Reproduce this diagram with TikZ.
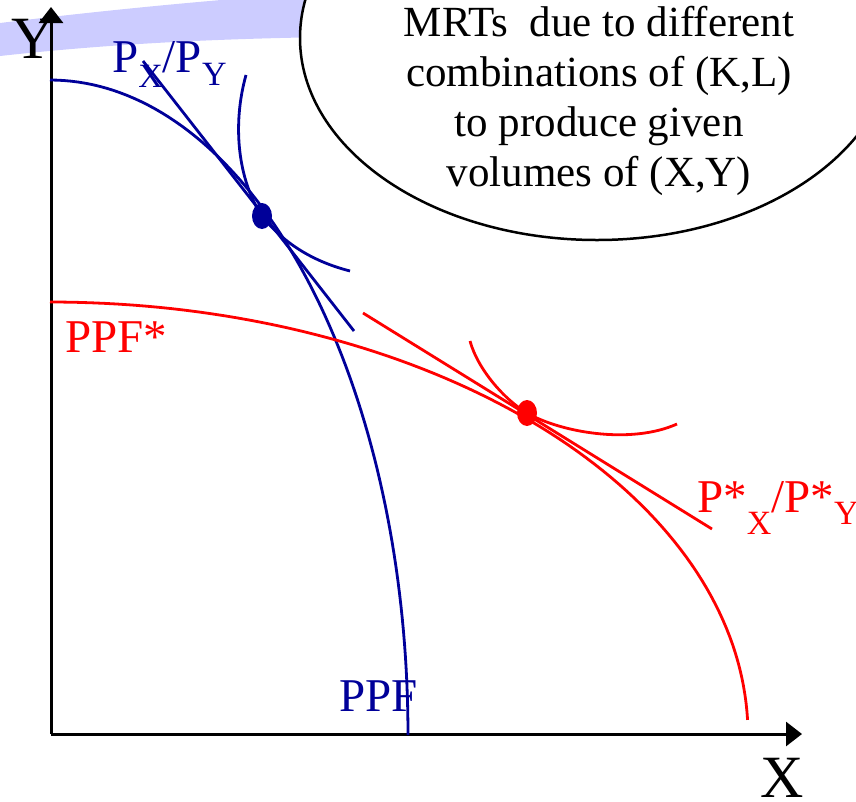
\documentclass[tikz,border=0pt]{standalone}
\usepackage{fontspec}
\setmainfont{Liberation Serif}
\usetikzlibrary{arrows.meta}
\definecolor{ppfblue}{RGB}{0,0,153}
\definecolor{bandblue}{RGB}{204,204,255}
\newcommand{\fsz}[2]{\fontsize{#1}{#2}\selectfont}
\newcommand{\sub}[2]{\raisebox{-#1pt}{\fsz{34}{34}#2}}
\begin{document}
\begin{tikzpicture}[x=1pt,y=-1pt,
  axis/.style={line width=3pt,-{Triangle[length=16pt,width=24pt]}},
  curve/.style={line width=2.8pt},
  lbl/.style={inner sep=0pt,anchor=base west,font=\fsz{47}{47}}]
  \useasboundingbox (0,0) rectangle (856,801);
  \clip (0,0) rectangle (856,801);
  % band and bubble
  \fill[bandblue] (0,23) .. controls (90,12) and (180,3) .. (270,-4) -- (330,-4)
    -- (330,37) .. controls (200,39) and (100,45) .. (0,56) -- cycle;
  \draw[fill=white,line width=2.5pt] (597,38) ellipse[x radius=297,y radius=202];
  \node[align=center,inner sep=0pt,anchor=base,font=\fsz{43}{50}] (note) at (599,186)
    {MRTs\ \ due to different\\combinations of (K,L)\\to produce given\\volumes of (X,Y)};
  % axes
  \coordinate (O) at (51,734);
  \coordinate (ytip) at (51,7);
  \coordinate (xtip) at (802,734);
  \draw[axis] (O) -- (ytip);
  \draw[axis] (O) -- (xtip);
  \node[inner sep=0pt,anchor=base,font=\fsz{60}{60}] (ylab) at (33,58) {Y};
  \node[inner sep=0pt,anchor=base,font=\fsz{60}{60}] (xlab) at (782,797) {X};
  % PPF
  \coordinate (dotb) at (262,216);
  \coordinate (tb1) at (143,61);
  \coordinate (tb2) at (354,331);
  \draw[curve,ppfblue] plot[domain=0:90,samples=80] ({50+358*cos(\x)},{735-655*sin(\x)});
  \draw[curve,ppfblue] (tb1) -- (tb2);
  \draw[curve,ppfblue] (246,75) .. controls (232,125) and (238,180) .. (dotb)
    .. controls (285,245) and (315,262) .. (350,271);
  \fill[ppfblue] (dotb) ellipse[x radius=10,y radius=13];
  \node[lbl,text=ppfblue] (pb) at (112,72) {P\sub{15}{X}/P\sub{13}{Y}};
  \node[lbl,text=ppfblue] (ppf) at (339,711) {PPF};
  % PPF*
  \coordinate (dotr) at (527,413);
  \coordinate (tr1) at (363,313);
  \coordinate (tr2) at (712,529);
  \draw[curve,red] plot[domain=2:90,samples=80] ({50+698*cos(\x)},{735-433*sin(\x)});
  \draw[curve,red] (tr1) -- (tr2);
  \draw[curve,red] (470,341) .. controls (478,370) and (505,400) .. (dotr)
    .. controls (560,432) and (630,445) .. (677,424);
  \fill[red] (dotr) ellipse[x radius=10,y radius=13];
  \node[lbl,text=red] (pr) at (697,512) {P*\sub{22}{X}/P*\sub{12}{Y}};
  \node[lbl,text=red] (ppfs) at (65,352) {PPF*};
\end{tikzpicture}
\end{document}
